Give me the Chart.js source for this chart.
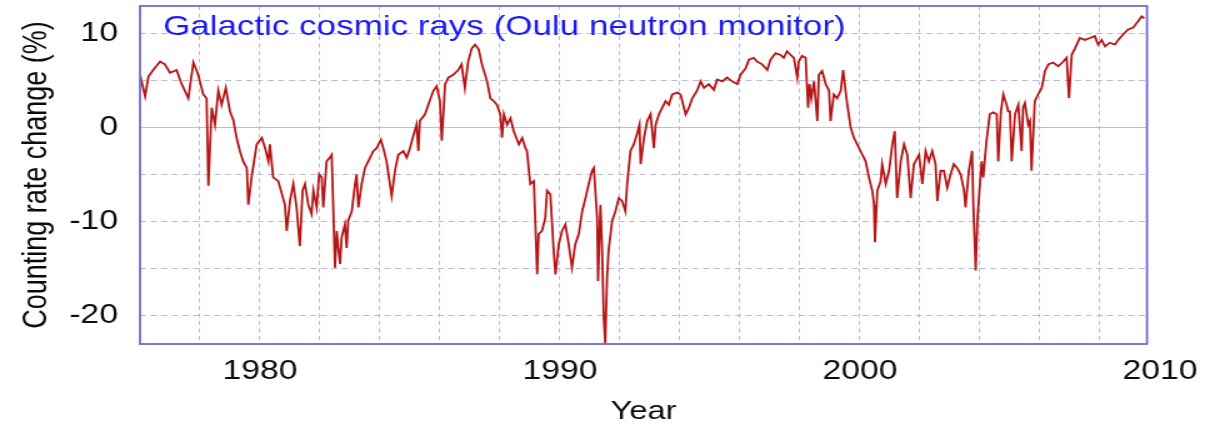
<!DOCTYPE html>
<html>
<head>
<meta charset="utf-8">
<title>Galactic cosmic rays (Oulu neutron monitor)</title>
<script src="https://cdn.jsdelivr.net/npm/chart.js@4.4.1/dist/chart.umd.min.js"></script>
<style>
  html,body{margin:0;padding:0;background:#fff;overflow:hidden;}
</style>
</head>
<body>
<!-- 原图横向拉伸约 1.25 倍：按 972 宽绘制，再用 CSS 拉到 1215 -->
<canvas id="cv" width="972" height="429" style="display:block;width:1215px;height:429px"></canvas>
<script>
/* 年份 / 计数率变化(%)，从原图逐段读取 */
const years = [
  1976.00,1976.17,1976.28,1976.44,1976.67,1976.83,1977.00,1977.22,1977.39,1977.61,1977.78,1977.94,
  1978.11,1978.22,1978.28,1978.39,1978.50,1978.61,1978.72,1978.86,1979.00,1979.11,1979.22,1979.33,
  1979.44,1979.56,1979.61,1979.72,1979.89,1980.06,1980.17,1980.28,1980.33,1980.44,1980.61,1980.83,
  1980.89,1981.00,1981.11,1981.22,1981.33,1981.42,1981.50,1981.61,1981.72,1981.78,1981.89,1981.97,
  1982.06,1982.11,1982.22,1982.33,1982.39,1982.44,1982.50,1982.56,1982.61,1982.67,1982.72,1982.83,
  1982.89,1982.94,1983.06,1983.17,1983.22,1983.28,1983.39,1983.50,1983.67,1983.78,1983.89,1984.03,
  1984.11,1984.22,1984.33,1984.39,1984.50,1984.61,1984.78,1984.89,1985.00,1985.11,1985.22,1985.28,
  1985.33,1985.50,1985.61,1985.78,1985.89,1986.00,1986.06,1986.17,1986.28,1986.44,1986.61,1986.72,
  1986.83,1986.94,1987.06,1987.17,1987.29,1987.40,1987.57,1987.68,1987.79,1987.90,1988.01,1988.07,
  1988.13,1988.24,1988.35,1988.46,1988.63,1988.74,1988.85,1988.90,1989.01,1989.13,1989.24,1989.29,
  1989.40,1989.51,1989.57,1989.68,1989.79,1989.85,1989.96,1990.07,1990.18,1990.29,1990.40,1990.51,
  1990.63,1990.74,1990.85,1990.96,1991.07,1991.13,1991.24,1991.27,1991.35,1991.40,1991.46,1991.51,
  1991.57,1991.62,1991.74,1991.85,1991.96,1992.07,1992.18,1992.24,1992.35,1992.46,1992.57,1992.65,
  1992.69,1992.80,1992.91,1993.02,1993.13,1993.19,1993.30,1993.41,1993.52,1993.63,1993.74,1993.91,
  1994.02,1994.19,1994.30,1994.41,1994.57,1994.69,1994.80,1994.96,1995.13,1995.24,1995.41,1995.57,
  1995.74,1995.91,1996.02,1996.19,1996.30,1996.46,1996.57,1996.74,1996.91,1997.02,1997.19,1997.35,
  1997.46,1997.57,1997.69,1997.80,1997.91,1997.96,1998.07,1998.19,1998.27,1998.32,1998.38,1998.47,
  1998.58,1998.63,1998.74,1998.86,1998.97,1999.02,1999.13,1999.24,1999.36,1999.44,1999.52,1999.58,
  1999.69,1999.80,1999.91,2000.02,2000.19,2000.30,2000.41,2000.47,2000.50,2000.58,2000.69,2000.74,
  2000.86,2000.97,2001.08,2001.16,2001.24,2001.36,2001.47,2001.58,2001.69,2001.80,2001.97,2002.08,
  2002.19,2002.30,2002.41,2002.52,2002.58,2002.69,2002.80,2002.91,2003.02,2003.13,2003.24,2003.36,
  2003.47,2003.52,2003.63,2003.74,2003.78,2003.86,2003.92,2004.00,2004.06,2004.11,2004.22,2004.33,
  2004.44,2004.56,2004.61,2004.70,2004.78,2004.89,2004.94,2005.00,2005.06,2005.17,2005.28,2005.39,
  2005.44,2005.50,2005.61,2005.67,2005.72,2005.83,2005.94,2006.06,2006.17,2006.28,2006.44,2006.61,
  2006.78,2006.89,2006.97,2007.06,2007.17,2007.33,2007.50,2007.67,2007.83,2007.94,2008.06,2008.17,
  2008.33,2008.50,2008.61,2008.78,2008.94,2009.11,2009.28,2009.39,2009.48
];
const ratePct = [
  5.6,3.3,5.4,6.1,7.0,6.7,5.8,6.1,4.6,3.1,6.9,5.6,
  3.5,3.1,-6.2,2.1,0.3,3.9,2.4,4.2,1.7,0.8,-1.1,-2.5,
  -3.6,-4.3,-8.2,-5.3,-1.8,-1.1,-2.2,-3.6,-1.8,-5.3,-5.7,-8.2,
  -11.0,-7.8,-6.0,-8.5,-12.6,-6.7,-6.0,-8.2,-9.2,-6.7,-8.5,-5.0,
  -5.3,-8.5,-3.6,-3.2,-2.9,-8.2,-14.9,-11.0,-12.8,-14.5,-11.7,-10.3,
  -12.8,-9.9,-8.9,-6.0,-5.0,-8.5,-6.0,-4.3,-3.2,-2.5,-2.2,-1.3,
  -2.2,-3.6,-6.0,-7.3,-4.6,-2.9,-2.5,-3.2,-2.2,-0.9,0.3,-2.5,
  0.7,1.4,2.4,3.9,4.4,2.8,-1.4,4.6,5.3,5.6,6.1,6.7,
  4.2,7.0,8.4,8.8,8.3,6.7,4.9,3.1,2.8,2.4,1.4,-1.1,
  1.4,0.3,1.0,-0.4,-1.8,-1.1,-2.2,-2.5,-6.0,-5.7,-15.6,-11.3,
  -11.0,-9.6,-6.7,-7.1,-13.1,-15.6,-12.4,-11.0,-10.3,-12.4,-14.9,-12.4,
  -11.3,-8.9,-7.5,-6.0,-4.6,-4.3,-9.6,-16.3,-8.2,-12.4,-20.2,-23.0,
  -15.9,-13.1,-9.9,-8.9,-7.5,-7.8,-8.9,-6.0,-2.5,-1.8,-0.7,0.3,
  -3.9,-1.1,0.7,1.4,-2.2,0.3,1.4,2.1,2.8,2.4,3.5,3.7,
  3.5,1.4,2.1,3.1,3.9,4.9,4.2,4.6,4.0,5.1,4.9,5.3,
  4.9,4.6,5.6,6.3,7.2,7.4,7.0,6.7,6.1,7.2,7.9,7.7,
  7.4,8.1,7.7,7.4,5.3,7.0,7.6,7.4,2.1,4.6,3.1,4.9,
  0.7,5.6,6.0,4.6,3.9,0.7,3.5,3.1,3.9,6.1,3.9,2.4,
  0.0,-1.1,-1.8,-2.5,-3.6,-5.3,-6.7,-8.2,-12.2,-6.7,-5.7,-3.9,
  -6.0,-4.6,-1.8,-0.4,-7.5,-3.6,-1.8,-2.9,-7.5,-3.9,-2.9,-6.0,
  -2.5,-3.6,-2.5,-3.9,-7.8,-4.6,-4.6,-6.4,-5.0,-3.9,-4.3,-5.0,
  -6.7,-8.5,-4.6,-2.5,-8.2,-15.2,-9.6,-6.0,-3.6,-5.3,-1.4,1.4,
  1.6,1.4,-3.6,1.7,3.5,2.4,1.7,1.7,-3.6,1.4,2.4,-2.5,
  2.1,2.6,0.3,0.7,-4.6,2.8,3.5,4.2,6.0,6.7,6.9,6.5,
  7.0,7.4,3.1,7.7,8.4,9.5,9.3,9.5,9.7,8.8,9.3,8.6,
  9.0,8.8,9.3,9.9,10.4,10.6,11.3,11.8,11.6
];
// 网格每 2 年一条，标签只标整十年；2010 落在框外
const xGridYears = [1976,1978,1980,1982,1984,1986,1988,1990,1992,1994,1996,1998,2000,2002,2004,2006,2008,2010];
const xTickLabels = [1980,1990,2000,2010];
const yGridValues = [-20,-15,-10,-5,0,5,10];
const yTickLabels = [-20,-10,0,10];

const X_MIN=1976, X_MAX=2009.57, Y_MIN=-23, Y_MAX=12.9;
const FONT='"Liberation Sans", Arial, Helvetica, sans-serif';
const GRID="#babade", ZERO="#bcbcea", FRAME="#6e6ed4", LINE="#b51515", INK="#0c0c0c";
const TITLE="Galactic cosmic rays (Oulu neutron monitor)";

const frameAndTitle = {
  id:"frameAndTitle",
  afterDatasetsDraw(chart){
    const a=chart.chartArea, ctx=chart.ctx;
    ctx.save();
    ctx.strokeStyle=FRAME; ctx.lineWidth=1.8;
    ctx.strokeRect(a.left, a.top, a.right-a.left, a.bottom-a.top);
    ctx.fillStyle="#1a1af0";
    ctx.font="28px "+FONT;
    ctx.textBaseline="alphabetic";
    ctx.fillText(TITLE, a.left+18.4, 35);
    ctx.restore();
  }
};

const points = years.map((y,i)=>({x:y, y:ratePct[i]}));

new Chart(document.getElementById("cv").getContext("2d"),{
  type:"line",
  data:{datasets:[{data:points, borderColor:LINE, borderWidth:1.8,
    pointRadius:0, tension:0, fill:false}]},
  options:{
    responsive:false, animation:false, devicePixelRatio:1,
    layout:{padding:{left:0, right:54.4, top:6, bottom:0}},
    plugins:{legend:{display:false}, tooltip:{enabled:false}},
    scales:{
      x:{
        type:"linear", min:X_MIN, max:X_MAX,
        afterBuildTicks:s=>{ s.ticks = xGridYears.map(v=>({value:v})); },
        afterFit:s=>{ s.height=85; s.paddingLeft=0; s.paddingRight=0; },
        grid:{drawTicks:false, lineWidth:1,
          color:c=>(c.tick && c.tick.value>X_MAX) ? "rgba(0,0,0,0)" : GRID},
        border:{display:false, dash:[4,3.5]},
        ticks:{autoSkip:false, maxRotation:0, padding:11.8, color:INK,
          font:{family:FONT, size:27},
          callback:v=>xTickLabels.includes(v) ? String(v) : ""},
        title:{display:true, text:"Year", color:INK,
          font:{family:FONT, size:26}, padding:{top:0, bottom:1.4}}
      },
      y:{
        min:Y_MIN, max:Y_MAX,
        afterBuildTicks:s=>{ s.ticks = yGridValues.map(v=>({value:v})); },
        afterFit:s=>{ s.width=112; s.paddingTop=0; s.paddingBottom=0; },
        grid:{drawTicks:false, lineWidth:1,
          color:c=>(c.tick && c.tick.value===0) ? ZERO : GRID},
        border:{display:false,
          dash:c=>(c.tick && c.tick.value===0) ? [] : [5,3.5]},
        ticks:{autoSkip:false, padding:17.6, color:INK,
          font:{family:FONT, size:27},
          callback:v=>yTickLabels.includes(v) ? String(v) : ""},
        title:{display:true, text:"Counting rate change (%)", color:INK,
          font:{family:FONT, size:27}, padding:{top:13.4, bottom:0}}
      }
    }
  },
  plugins:[frameAndTitle]
});
</script>
</body>
</html>
